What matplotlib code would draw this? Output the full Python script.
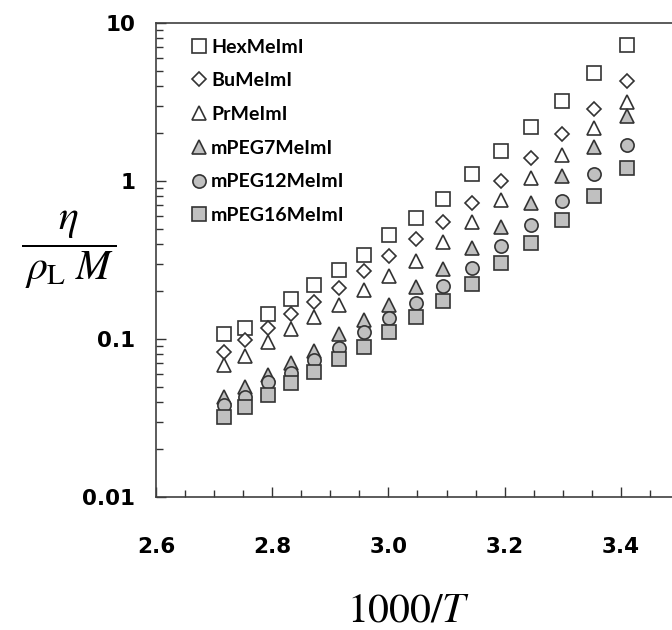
import numpy as np
import matplotlib
matplotlib.use("Agg")
import matplotlib.pyplot as plt
from matplotlib.ticker import MultipleLocator, LogLocator, NullFormatter, FixedLocator

# 1000/T for T = 368.15 ... 293.15 K
x_vals = [2.7163, 2.7537, 2.7921, 2.8317, 2.8723, 2.9142, 2.9573, 3.0017,
          3.0474, 3.0945, 3.1432, 3.1934, 3.2452, 3.2987, 3.3540, 3.4112]

hex_me = [0.107, 0.117, 0.145, 0.180, 0.221, 0.275, 0.342, 0.458,
          0.586, 0.773, 1.11, 1.55, 2.20, 3.21, 4.83, 7.26]
bu_me = [0.083, 0.099, 0.118, 0.143, 0.172, 0.211, 0.271, 0.337,
         0.432, 0.553, 0.730, 1.00, 1.39, 1.97, 2.87, 4.27]
pr_me = [0.0688, 0.0784, 0.0961, 0.116, 0.138, 0.165, 0.205, 0.252,
         0.313, 0.413, 0.553, 0.762, 1.05, 1.47, 2.18, 3.18]
mpeg7 = [0.0431, 0.0499, 0.0594, 0.0708, 0.0843, 0.108, 0.132, 0.163,
         0.214, 0.279, 0.379, 0.514, 0.730, 1.07, 1.65, 2.56]
mpeg12 = [0.0384, 0.0431, 0.0537, 0.0612, 0.074, 0.0881, 0.110, 0.135,
          0.170, 0.218, 0.283, 0.385, 0.530, 0.751, 1.11, 1.70]
mpeg16 = [0.0322, 0.0373, 0.0444, 0.0528, 0.0621, 0.0750, 0.0894, 0.111,
          0.138, 0.175, 0.224, 0.302, 0.407, 0.570, 0.809, 1.20]

labels = ["HexMeImI", "BuMeImI", "PrMeImI", "mPEG7MeImI", "mPEG12MeImI", "mPEG16MeImI"]
series = [hex_me, bu_me, pr_me, mpeg7, mpeg12, mpeg16]

edge = "#333333"
grey = "#c0c0c0"
styles = [
    dict(marker="s", ms=10, mfc="white"),
    dict(marker="D", ms=6.8, mfc="white"),
    dict(marker="^", ms=10, mfc="white"),
    dict(marker="^", ms=10, mfc=grey),
    dict(marker="o", ms=9.5, mfc=grey),
    dict(marker="s", ms=10, mfc=grey),
]

plt.rcParams["mathtext.fontset"] = "stix"

fig = plt.figure(figsize=(6.72, 6.3), dpi=100)
ax = fig.add_axes([156 / 672, 1 - 497 / 630, 523 / 672, 474 / 630])

for y, lab, st in zip(series, labels, styles):
    ax.plot(x_vals, y, linestyle="none", mec=edge, mew=1.2, label=lab, **st)

ax.set_yscale("log")
ax.set_xlim(2.6, 3.5)
ax.set_ylim(0.01, 10)

ax.xaxis.set_major_locator(FixedLocator([2.6, 2.8, 3.0, 3.2, 3.4]))
ax.xaxis.set_minor_locator(MultipleLocator(0.05))
ax.set_xticklabels(["2.6", "2.8", "3.0", "3.2", "3.4"])
ax.yaxis.set_major_locator(FixedLocator([0.01, 0.1, 1, 10]))
ax.set_yticklabels(["0.01", "0.1", "1", "10"])
ax.yaxis.set_minor_locator(LogLocator(base=10, subs=np.arange(2, 10)))
ax.yaxis.set_minor_formatter(NullFormatter())

for lab in ax.get_xticklabels() + ax.get_yticklabels():
    lab.set_fontweight("bold")
    lab.set_fontsize(15.5)
    lab.set_family("DejaVu Sans")

ax.tick_params(which="both", direction="in", color=edge, width=1.0,
               top=False, right=False)
ax.tick_params(which="major", length=7.5)
ax.tick_params(which="minor", length=5)
ax.tick_params(axis="x", which="major", pad=29)
ax.tick_params(axis="y", which="major", pad=15)

for side in ["left", "bottom", "top"]:
    ax.spines[side].set_color("#404040")
    ax.spines[side].set_linewidth(1.2)
ax.spines["right"].set_visible(False)

leg = ax.legend(loc="upper left", bbox_to_anchor=(0.042, 1.0), frameon=False,
                prop=dict(family="Lato", weight="bold", size=14),
                handlelength=0.6, handletextpad=0.3, labelspacing=0.86,
                borderaxespad=0.4)

fig.text(409 / 672, 1 - 610 / 630, r"$\mathrm{1000}/T$", fontsize=30,
         ha="center", va="center")
fig.text(69 / 672, 1 - 250 / 630, r"$\dfrac{\eta}{\,\rho_{\mathrm{L}}\;M\,}$",
         fontsize=30, ha="center", va="center")

fig.savefig("out.png", dpi=100)
